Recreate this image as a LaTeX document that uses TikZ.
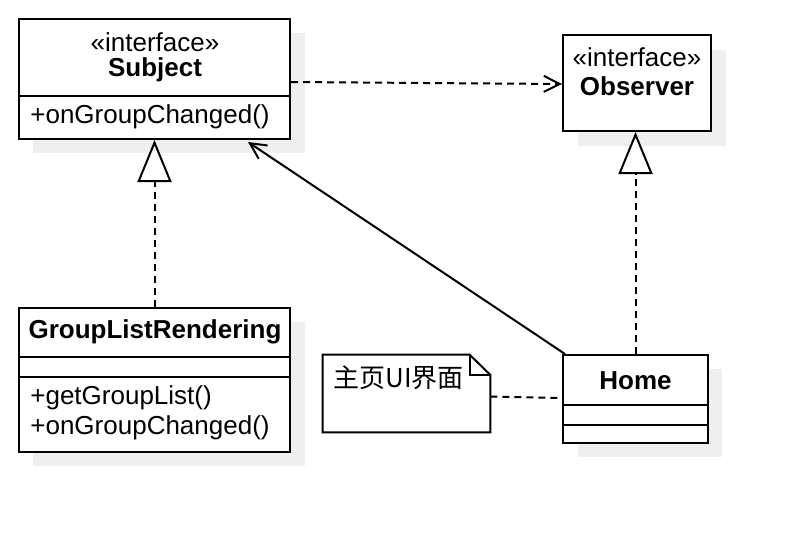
\documentclass[tikz,border=0pt]{standalone}
\usepackage{fontspec}
\setmainfont{Liberation Sans}
\newfontfamily\cjk{Noto Sans CJK SC}
\usepackage{tikz}
\usetikzlibrary{arrows.meta,positioning,fit,calc}
\definecolor{ink}{HTML}{000000}
\definecolor{shade}{HTML}{EFEFEF}
\tikzset{
  cls/.style={draw=ink, line width=1pt, fill=white, inner sep=0pt},
  shd/.style={fill=shade, draw=none},
  ttl/.style={font=\fontsize{13}{15}\selectfont\bfseries, inner sep=0pt},
  stereo/.style={font=\fontsize{13}{15}\selectfont, inner sep=0pt},
  mth/.style={font=\fontsize{13}{15}\selectfont, anchor=west, inner sep=0pt},
  sep/.style={draw=ink, line width=1pt},
  realize/.style={draw=ink, line width=1pt, dash pattern=on 3.5pt off 2.5pt,
                  -{Triangle[open, length=21pt, width=17pt, fill=white]}},
  depend/.style={draw=ink, line width=1pt, dash pattern=on 3.5pt off 2.5pt,
                 -{Straight Barb[length=8pt, width=8pt]}},
  assoc/.style={draw=ink, line width=1pt, -{Straight Barb[length=8pt, width=8pt]}},
  link/.style={draw=ink, line width=1pt, dash pattern=on 3.5pt off 2.5pt},
}

\begin{document}
\begin{tikzpicture}[x=0.5pt, y=-0.5pt]
  \useasboundingbox (0,0) rectangle (790,532);
  % shadows
  \fill[shd] (33,33) rectangle (305,153);
  \fill[shd] (578,50) rectangle (726,146);
  \fill[shd] (33,322) rectangle (305,466);
  \fill[shd] (578,369) rectangle (722,457);

  % classes
  \node[cls, fit={(19,19) (290,139)}] (subject) {};
  \node[stereo] at (155,42) {«interface»};
  \node[ttl] at (155,70) {Subject};
  \draw[sep] (19,96) -- (290,96);
  \node[mth] at (30,117) {+onGroupChanged()};

  \node[cls, fit={(563,35) (711,131)}] (observer) {};
  \node[stereo] at (637,57) {«interface»};
  \node[ttl] at (637,86) {Observer};

  \node[cls, fit={(19,308) (290,452)}] (glr) {};
  \node[ttl] at (155,332) {GroupListRendering};
  \draw[sep] (19,357) -- (290,357);
  \draw[sep] (19,377) -- (290,377);
  \node[mth] at (30,398) {+getGroupList()};
  \node[mth] at (30,428) {+onGroupChanged()};

  \node[cls, fit={(563,355) (708,443)}] (home) {};
  \node[ttl] at (635.5,381) {Home};
  \draw[sep] (563,405) -- (708,405);
  \draw[sep] (563,425) -- (708,425);

  % note
  \node[inner sep=0pt, fit={(323,355) (490,432)}] (note) {};
  \draw[draw=ink, line width=1pt, fill=white]
    (note.north west) -- ++(147,0) -- (note.north east |- 0,375) -- (note.south east)
    -- (note.south west) -- cycle;
  \draw[draw=ink, line width=1pt] (470,355) -- (470,375) -- (490,375);
  \node[mth, font=\fontsize{13}{15}\selectfont\cjk] at (333,378) {主页UI界面};

  % connectors
  \draw[depend] ($(subject.east)+(0,3)$) -- ($(observer.west)+(0,1)$);
  \draw[realize] (glr.north) -- (subject.south);
  \draw[realize] (home.north) -- (home.north |- observer.south);
  \draw[assoc] ($(home.north west)+(3,0)$) -- ($(subject.south east)+(-43,2)$);
  \draw[link] ($(note.east)+(0,3)$) -- ($(home.west)+(0,-1)$);
\end{tikzpicture}
\end{document}
